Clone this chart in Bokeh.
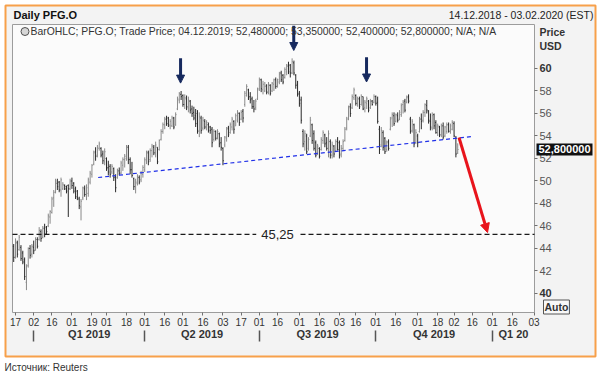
import pandas as pd
from bokeh.plotting import figure
from bokeh.models import (Range1d, FixedTicker, LinearAxis, Label, Arrow,
                          NormalHead, BoxAnnotation, ColumnDataSource)
from bokeh.embed import file_html
from bokeh.resources import INLINE

# ------------------------------------------------------------------ data
start_date = "2018-12-14"
axis_end_date = "2020-02-03"
market_holidays = ["2018-12-25", "2019-01-01", "2019-01-21", "2019-02-18", "2019-04-19",
                   "2019-05-27", "2019-07-04", "2019-09-02", "2019-11-28", "2019-12-25"]

bar_high = [44.4, 44.9, 44.7, 45.2, 44.3, 43.8, 43.2, 42.6, 44.1, 44.3,
            44.4, 44.7, 45.0, 45.0, 45.9, 45.7, 46.0, 46.2, 46.0, 47.1,
            47.4, 48.6, 49.2, 50.2, 50.2, 50.0, 50.3, 49.9, 49.7, 49.6,
            49.7, 50.2, 50.3, 49.9, 49.5, 49.2, 48.6, 48.4, 49.5, 49.6,
            49.7, 50.3, 50.9, 51.5, 52.7, 53.0, 53.2, 53.5, 53.0, 52.7,
            52.9, 52.1, 51.8, 51.5, 51.5, 51.2, 50.6, 51.1, 51.2, 51.8,
            52.1, 52.4, 53.2, 53.2, 52.1, 51.7, 50.3, 50.2, 50.6, 50.5,
            50.9, 51.4, 52.1, 52.7, 52.7, 52.9, 53.3, 53.2, 53.5, 53.0,
            53.7, 54.6, 55.2, 55.7, 55.8, 55.7, 55.5, 55.8, 55.7, 56.1,
            57.5, 57.9, 58.0, 57.7, 57.7, 57.6, 57.5, 57.2, 56.7, 56.6,
            56.4, 56.3, 56.1, 55.8, 55.7, 55.5, 55.4, 55.2, 54.9, 54.8,
            54.6, 54.5, 54.6, 54.3, 53.9, 53.0, 54.0, 54.8, 54.9, 55.2,
            55.7, 55.4, 56.0, 56.3, 56.1, 56.3, 56.4, 58.0, 58.6, 58.2,
            57.9, 57.5, 57.2, 57.3, 58.3, 59.2, 59.1, 58.9, 58.8, 58.6,
            58.8, 58.6, 58.8, 59.1, 59.2, 59.1, 59.7, 59.8, 59.5, 60.1,
            60.4, 60.6, 60.4, 60.9, 60.7, 59.5, 58.9, 58.0, 57.5, 54.6,
            54.5, 54.2, 53.9, 55.7, 55.1, 54.5, 53.6, 53.3, 53.0, 53.9,
            54.5, 54.2, 53.9, 54.5, 53.7, 53.5, 53.2, 53.7, 53.9, 53.6,
            53.2, 53.7, 54.8, 55.7, 56.7, 56.9, 57.7, 58.3, 57.7, 57.5,
            57.5, 57.7, 57.5, 57.2, 57.5, 57.2, 57.3, 57.2, 57.7, 57.6,
            57.5, 54.9, 54.8, 54.5, 53.9, 53.6, 53.7, 55.7, 56.1, 56.1,
            56.0, 56.1, 56.3, 56.9, 57.2, 57.3, 57.6, 57.7, 55.7, 55.5,
            55.1, 54.6, 54.2, 55.7, 56.0, 56.3, 56.9, 57.2, 56.3, 56.0,
            56.1, 56.0, 55.4, 55.1, 54.9, 55.1, 55.2, 54.9, 55.2, 55.2,
            55.1, 55.4, 55.3, 54.0, 53.35]
bar_low = [42.8, 43.1, 43.2, 43.8, 42.9, 42.6, 41.2, 40.3, 42.3, 43.1,
           43.2, 43.5, 43.8, 44.0, 44.7, 44.6, 44.9, 45.0, 45.2, 45.9,
           46.2, 47.1, 47.7, 48.9, 49.2, 49.0, 48.6, 49.2, 49.2, 48.9,
           46.8, 49.2, 49.3, 48.9, 48.4, 48.3, 47.5, 46.5, 48.3, 48.6,
           48.3, 48.6, 49.7, 50.3, 51.4, 51.8, 52.1, 52.7, 52.1, 51.5,
           51.4, 50.9, 50.5, 50.3, 50.6, 50.0, 49.0, 50.2, 50.5, 50.6,
           50.9, 51.2, 51.8, 51.5, 50.6, 50.3, 49.2, 48.9, 49.6, 49.7,
           49.9, 50.3, 50.8, 51.5, 51.4, 51.7, 52.1, 52.3, 52.1, 51.5,
           52.7, 53.6, 54.2, 54.6, 54.9, 54.8, 54.6, 54.8, 54.6, 54.9,
           56.3, 56.9, 57.2, 56.6, 56.4, 56.3, 56.1, 56.0, 55.7, 55.4,
           54.8, 54.2, 53.9, 54.2, 54.5, 54.6, 54.5, 54.3, 54.2, 53.0,
           53.5, 53.6, 53.7, 53.0, 52.7, 51.4, 53.0, 53.5, 53.9, 54.2,
           54.5, 54.2, 54.9, 55.2, 54.9, 55.4, 55.2, 56.6, 57.5, 57.2,
           56.9, 56.4, 56.1, 56.3, 57.2, 58.0, 57.9, 57.7, 57.9, 57.7,
           57.7, 57.6, 57.9, 58.0, 58.2, 58.3, 58.6, 58.8, 58.6, 59.1,
           59.4, 59.5, 59.2, 59.5, 59.4, 58.2, 57.5, 56.6, 55.1, 53.0,
           52.7, 52.4, 52.7, 53.9, 53.3, 52.7, 52.1, 52.3, 52.0, 52.7,
           53.3, 53.0, 52.7, 52.1, 52.0, 52.0, 52.1, 52.6, 52.7, 52.0,
           52.1, 52.7, 53.5, 54.5, 55.4, 55.7, 56.4, 57.2, 56.7, 56.6,
           56.4, 56.7, 56.3, 56.1, 56.4, 56.1, 56.4, 56.7, 56.9, 56.7,
           55.1, 52.4, 53.0, 52.7, 52.4, 52.6, 52.7, 54.5, 54.8, 54.9,
           55.2, 55.2, 55.4, 55.7, 56.0, 56.1, 56.9, 56.9, 54.2, 54.3,
           53.0, 53.3, 53.0, 54.3, 54.6, 55.2, 55.7, 56.0, 55.1, 54.5,
           54.5, 54.6, 54.2, 54.0, 53.9, 53.9, 53.7, 53.9, 54.2, 54.3,
           54.2, 54.5, 53.9, 52.1, 52.40]
bar_open = [44.2, 43.3, 44.5, 43.9, 44.1, 43.6, 43.0, 41.0, 42.5, 44.0,
            43.5, 44.1, 43.9, 44.8, 44.8, 45.5, 45.0, 45.8, 45.9, 46.0,
            46.8, 47.2, 48.5, 49.0, 49.8, 49.9, 49.2, 49.3, 49.6, 49.5,
            49.6, 49.3, 50.0, 49.8, 49.3, 49.1, 48.4, 47.7, 48.5, 49.3,
            48.8, 48.9, 49.9, 50.6, 51.5, 52.6, 52.3, 52.9, 52.9, 52.4,
            51.7, 52.0, 51.2, 51.3, 50.8, 51.1, 50.4, 50.3, 50.9, 50.7,
            51.4, 51.9, 52.0, 53.0, 51.9, 51.0, 50.2, 49.5, 49.8, 50.3,
            50.1, 50.6, 51.0, 51.8, 52.5, 51.9, 52.7, 53.0, 52.5, 53.0,
            52.8, 53.7, 54.4, 55.0, 55.5, 55.6, 54.9, 54.9, 55.6, 55.0,
            56.4, 57.2, 57.7, 57.6, 56.8, 57.3, 56.5, 57.1, 56.4, 56.1,
            55.8, 56.0, 54.5, 55.6, 54.7, 55.3, 54.8, 55.0, 54.8, 54.6,
            53.7, 54.4, 53.8, 54.2, 53.4, 52.9, 53.2, 53.8, 54.7, 54.3,
            54.8, 55.3, 54.9, 55.4, 56.0, 55.5, 56.2, 56.8, 57.6, 58.1,
            57.5, 57.3, 56.6, 56.5, 57.3, 58.2, 59.0, 58.1, 58.0, 58.5,
            57.9, 58.5, 58.0, 58.6, 59.0, 58.5, 58.8, 59.6, 59.4, 59.2,
            59.7, 60.2, 60.3, 59.6, 60.5, 59.4, 58.6, 57.8, 57.2, 54.4,
            53.5, 54.0, 52.9, 54.0, 55.0, 54.2, 53.4, 52.5, 52.9, 52.8,
            53.6, 54.1, 53.4, 52.9, 53.5, 52.3, 53.1, 52.7, 53.5, 53.4,
            52.4, 52.9, 53.6, 54.7, 55.6, 56.6, 56.5, 57.4, 57.6, 56.9,
            57.3, 56.8, 57.5, 56.5, 56.9, 57.1, 56.5, 57.1, 57.0, 57.5,
            57.0, 54.6, 53.2, 54.3, 53.8, 52.8, 53.5, 54.6, 55.6, 55.8,
            55.3, 55.8, 55.5, 55.9, 56.8, 57.1, 57.0, 57.5, 55.5, 54.5,
            55.0, 53.4, 54.0, 54.4, 55.5, 55.4, 56.1, 56.7, 56.2, 55.3,
            54.7, 55.9, 55.2, 54.3, 54.8, 54.1, 54.9, 54.0, 54.4, 55.0,
            54.5, 54.6, 55.1, 53.8, 52.48]
bar_close = [43.2, 44.6, 43.5, 45.0, 43.1, 42.8, 41.5, 42.4, 44.0, 43.4,
             44.2, 43.8, 44.8, 44.2, 45.6, 44.9, 45.8, 45.3, 45.5, 46.9,
             47.3, 48.4, 49.0, 50.0, 49.5, 49.2, 50.1, 49.7, 49.3, 49.1,
             49.3, 50.0, 49.6, 49.1, 48.6, 48.5, 47.8, 48.2, 49.4, 48.8,
             49.4, 50.1, 50.7, 51.4, 52.5, 52.2, 53.0, 53.3, 52.3, 51.8,
             52.6, 51.1, 50.8, 50.6, 51.3, 50.3, 49.4, 50.9, 50.7, 51.6,
             51.9, 52.2, 53.0, 51.9, 51.0, 50.5, 49.5, 49.9, 50.4, 49.9,
             50.7, 51.2, 51.9, 52.6, 51.7, 52.7, 53.1, 52.5, 53.2, 51.7,
             53.6, 54.4, 55.0, 55.5, 55.1, 55.0, 55.3, 55.6, 54.8, 55.9,
             57.3, 57.8, 57.5, 56.8, 57.4, 56.6, 57.2, 56.3, 56.0, 55.6,
             55.1, 54.4, 55.7, 54.5, 55.4, 54.8, 55.2, 54.5, 54.5, 53.4,
             54.4, 53.8, 54.4, 53.3, 53.0, 51.8, 53.9, 54.6, 54.1, 55.0,
             55.5, 54.6, 55.8, 56.1, 55.2, 56.1, 55.6, 57.8, 58.4, 57.4,
             57.2, 56.6, 56.4, 57.1, 58.1, 59.0, 58.2, 58.6, 58.4, 57.9,
             58.6, 57.8, 58.7, 59.0, 58.4, 59.0, 59.5, 59.0, 58.8, 59.9,
             60.3, 59.7, 59.6, 60.6, 59.6, 58.5, 57.7, 56.9, 55.4, 53.3,
             54.2, 52.6, 53.7, 55.4, 53.6, 52.9, 52.3, 53.1, 52.2, 53.7,
             54.3, 53.3, 52.9, 54.2, 52.3, 53.2, 52.4, 53.5, 52.8, 52.3,
             52.9, 53.5, 54.6, 55.5, 56.5, 56.0, 57.5, 58.1, 56.9, 57.3,
             56.6, 57.5, 56.4, 57.0, 57.3, 56.3, 57.1, 56.8, 57.5, 56.9,
             55.3, 52.8, 54.5, 53.0, 52.6, 53.4, 52.9, 55.5, 55.9, 55.1,
             55.9, 55.4, 56.1, 56.7, 57.0, 56.3, 57.4, 57.1, 54.4, 55.3,
             53.3, 54.3, 53.4, 55.5, 55.3, 56.1, 56.8, 56.3, 55.4, 54.8,
             55.8, 54.9, 54.3, 54.9, 54.1, 54.9, 53.9, 54.8, 55.0, 54.4,
             54.9, 55.2, 54.0, 52.4, 52.80]

price_ticks = [40, 42, 44, 46, 48, 50, 52, 54, 56, 58, 60]
bold_price_ticks = [40, 60]
quarter_starts = ["2019-01-01", "2019-04-01", "2019-07-01", "2019-10-01", "2020-01-01"]
quarter_labels = ["Q1 2019", "Q2 2019", "Q3 2019", "Q4 2019", "Q1 20"]

support_x = [46.4, 252.0]          # bar index
support_y = [50.31, 53.96]         # price
target_level = 45.25
target_text = "45,25"
target_arrow_x = [244.7, 260.4]
target_arrow_y = [53.87, 45.42]
peak_arrow_x = [91.7, 153.9, 193.9]
peak_arrow_tail = [60.9, 63.8, 61.0]
peak_arrow_tip = [58.7, 61.6, 58.8]
last_price = 52.8
last_price_text = "52,800000"
legend_text = ("BarOHLC; PFG.O; Trade Price;  04.12.2019; 52,480000; 53,350000; "
               "52,400000; 52,800000; N/A; N/A")
title_text = "Daily PFG.O"
range_text = "14.12.2018 - 03.02.2020 (EST)"
source_text = "Источник: Reuters"

# ------------------------------------------------------------------ geometry
dates = pd.bdate_range(start_date, axis_end_date, freq="C", holidays=market_holidays)
n = len(bar_high)
idx = list(range(n))

W, H = 600, 375
# plot box (data) and where it sits on the page (pixels)
PB_L, PB_R = -0.66, len(dates) - 1 + 0.2
PB_B, PB_T = 38.311, 63.911
FL, FR, FT, FB = 12, 534, 24, 312
KX = (FR - FL) / (PB_R - PB_L)
KY = (FB - FT) / (PB_T - PB_B)
X0, X1 = PB_L - FL / KX, PB_R + (W - FR) / KX
Y1, Y0 = PB_T + FT / KY, PB_B - (H - FB) / KY


def rx(px):
    return X0 + px / KX


def ry(py):
    return Y1 - py / KY


FONT = "Liberation Sans"
p = figure(width=W, height=H, x_range=Range1d(X0, X1), y_range=Range1d(Y0, Y1),
           output_backend="svg", toolbar_location=None, title=None,
           y_axis_location="right", min_border=0,
           min_border_left=0, min_border_right=0, min_border_top=0, min_border_bottom=0,
           background_fill_color="white", border_fill_color="white",
           outline_line_color=None)
p.xgrid.visible = False
p.ygrid.visible = False

# panel and plot box
p.add_layout(BoxAnnotation(left=rx(5), right=rx(595), top=ry(5), bottom=ry(356),
                           fill_color="#f3f3f3", fill_alpha=1, line_color="#f7a04a",
                           line_alpha=1, line_width=2, level="underlay"))
p.add_layout(BoxAnnotation(left=PB_L, right=PB_R, top=PB_T, bottom=PB_B,
                           fill_color="#fbfbfb", fill_alpha=1, line_color="#9c9c9c",
                           line_alpha=1, line_width=1, level="underlay"))

# x ticks: first trading day on/after 1st and 16th of each month
tick_idx, tick_lab = [], []
for m in pd.date_range("2018-12-01", axis_end_date, freq="MS"):
    for d in (1, 16):
        t = m + pd.Timedelta(days=d - 1)
        if t < dates[0] or t > dates[-1]:
            continue
        k = int(dates.searchsorted(t))
        if k < len(dates) and k not in tick_idx:
            tick_idx.append(k)
            tick_lab.append(f"{dates[k].day:02d}")

xa = p.xaxis[0]
xa.fixed_location = PB_B
xa.ticker = FixedTicker(ticks=tick_idx, minor_ticks=[])
xa.major_label_overrides = {k: s for k, s in zip(tick_idx, tick_lab)}
xa.major_tick_out = 3
xa.major_tick_in = 0
xa.minor_tick_out = 0
xa.axis_line_color = None
xa.major_tick_line_color = "#707070"
xa.major_label_standoff = 2
xa.major_label_text_font = FONT
xa.major_label_text_font_size = "10px"
xa.major_label_text_color = "#333333"

q_bounds = [int(dates.searchsorted(pd.Timestamp(q))) for q in quarter_starts]
q_ends = q_bounds[1:] + [PB_R]
q_mid = [(a + b) / 2 for a, b in zip(q_bounds, q_ends)]
qa = LinearAxis(fixed_location=ry(330),
                ticker=FixedTicker(ticks=q_mid, minor_ticks=q_bounds),
                major_label_overrides={m: s for m, s in zip(q_mid, quarter_labels)},
                axis_line_color=None, major_tick_line_color=None,
                major_tick_out=0, major_tick_in=0,
                minor_tick_out=11, minor_tick_in=0,
                minor_tick_line_color="#555555", minor_tick_line_width=1.5,
                major_label_standoff=-14,
                major_label_text_font=FONT, major_label_text_font_size="11px",
                major_label_text_font_style="bold", major_label_text_color="#333333")
p.add_layout(qa, "below")

ya = p.yaxis[0]
ya.fixed_location = PB_R
ya.ticker = FixedTicker(ticks=price_ticks, minor_ticks=[])
ya.major_label_overrides = {t: ("" if t in bold_price_ticks else str(t)) for t in price_ticks}
ya.major_tick_out = 3
ya.major_tick_in = 0
ya.minor_tick_out = 0
ya.axis_line_color = None
ya.major_tick_line_color = "#707070"
ya.major_label_standoff = 2
ya.major_label_text_font = FONT
ya.major_label_text_font_size = "11px"
ya.major_label_text_color = "#555555"
for t in bold_price_ticks:
    p.add_layout(Label(x=rx(539), y=t, text=str(t), text_font=FONT, text_font_size="11px",
                       text_font_style="bold", text_color="#333333",
                       text_baseline="middle", text_align="left"))

# ------------------------------------------------------------------ OHLC bars
up_col, down_col = "#8a8a8a", "#2a2a2a"
colors = [up_col if c >= o else down_col for o, c in zip(bar_open, bar_close)]
src = ColumnDataSource(dict(x=idx, xl=[i - 0.45 for i in idx], xr=[i + 0.45 for i in idx],
                            open=bar_open, high=bar_high, low=bar_low, close=bar_close,
                            color=colors))
p.segment(x0="x", y0="low", x1="x", y1="high", line_color="color", line_width=1, source=src)
p.segment(x0="xl", y0="open", x1="x", y1="open", line_color="color", line_width=1, source=src)
p.segment(x0="x", y0="close", x1="xr", y1="close", line_color="color", line_width=1, source=src)

# ------------------------------------------------------------------ drawings
p.line(support_x, support_y, line_color="#2030e8", line_dash="4 3", line_width=1.2)
p.line([PB_L, PB_R], [target_level, target_level], line_color="#1a1a1a",
       line_dash="5 3", line_width=1.2)
p.add_layout(Label(x=rx(277), y=target_level, text=target_text, text_font=FONT,
                   text_font_size="13px", text_color="#222222", text_align="center",
                   text_baseline="middle", background_fill_color="#fbfbfb", padding=5))

navy = "#16295e"
for ax, tail, tip in zip(peak_arrow_x, peak_arrow_tail, peak_arrow_tip):
    p.add_layout(Arrow(end=NormalHead(size=8, fill_color=navy, line_color=navy),
                       x_start=ax, y_start=tail, x_end=ax, y_end=tip,
                       line_color=navy, line_width=3))
red = "#e8141c"
p.add_layout(Arrow(end=NormalHead(size=9, fill_color=red, line_color=red),
                   x_start=target_arrow_x[0], y_start=target_arrow_y[0],
                   x_end=target_arrow_x[1], y_end=target_arrow_y[1],
                   line_color=red, line_width=3))

# ------------------------------------------------------------------ texts
p.scatter(x=[rx(24.5)], y=[ry(31)], marker="circle", size=8,
          fill_color="#d6d6d6", line_color="#505050")
p.add_layout(Label(x=rx(30), y=ry(31), text=legend_text, text_font=FONT,
                   text_font_size="10.4px", text_color="#333333", text_baseline="middle"))
p.add_layout(Label(x=rx(13), y=ry(14), text=title_text, text_font=FONT,
                   text_font_size="11px", text_font_style="bold", text_color="#111111",
                   text_baseline="middle"))
p.add_layout(Label(x=rx(593), y=ry(14), text=range_text, text_font=FONT,
                   text_font_size="10.5px", text_color="#222222", text_baseline="middle",
                   text_align="right"))
p.add_layout(Label(x=rx(539), y=ry(31), text="Price", text_font=FONT,
                   text_font_size="10.5px", text_font_style="bold", text_color="#333333",
                   text_baseline="middle"))
p.add_layout(Label(x=rx(539), y=ry(45), text="USD", text_font=FONT,
                   text_font_size="10.5px", text_font_style="bold", text_color="#333333",
                   text_baseline="middle"))
p.add_layout(Label(x=rx(536), y=last_price, text=last_price_text, text_font=FONT,
                   text_font_size="11px", text_font_style="bold", text_color="white",
                   text_baseline="middle", background_fill_color="#111111", padding=2))
p.add_layout(Label(x=rx(543), y=ry(306.5), text="Auto", text_font=FONT,
                   text_font_size="10.5px", text_font_style="bold", text_color="#333333",
                   text_baseline="middle", background_fill_color="#f8f8f8",
                   border_line_color="#555555", padding=1))
p.add_layout(Label(x=rx(4), y=ry(367), text=source_text, text_font=FONT,
                   text_font_size="10px", text_color="#333333", text_baseline="middle"))

open("out.html", "w").write(file_html(p, INLINE))
